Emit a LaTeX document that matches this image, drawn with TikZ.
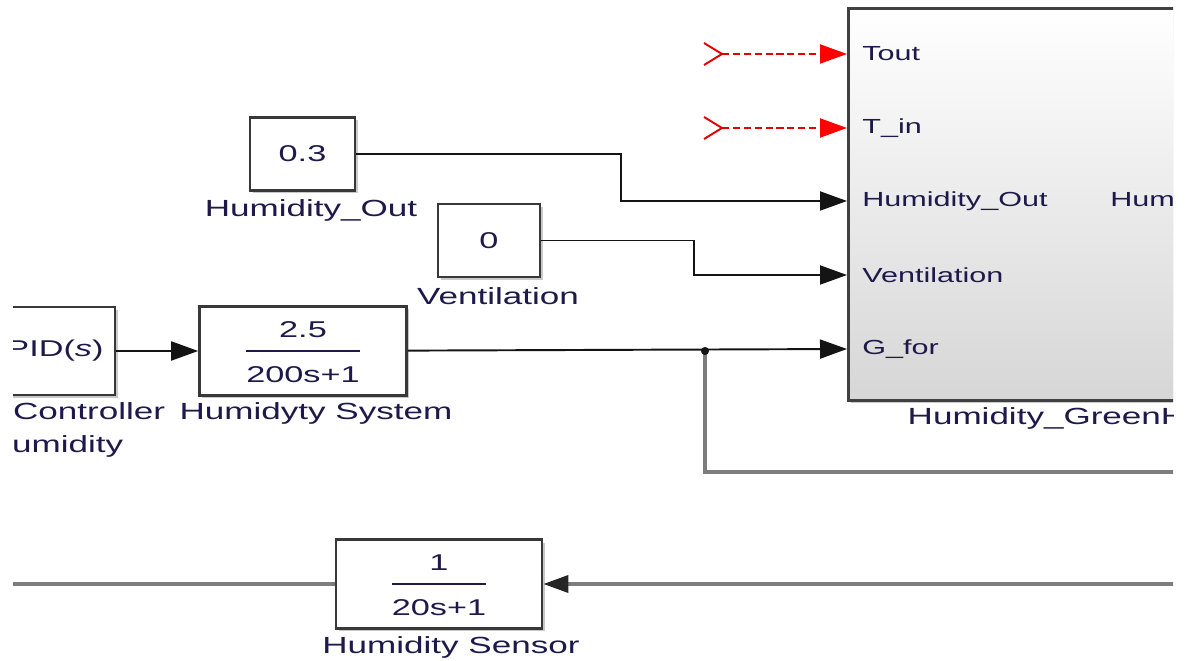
\documentclass[tikz,border=0pt]{standalone}
\usepackage{fontspec}
\setmainfont[FakeStretch=1.5]{Liberation Sans}
\usetikzlibrary{arrows.meta,shadows}

\definecolor{ink}{RGB}{30,25,75}
\definecolor{wire}{RGB}{20,20,20}
\definecolor{fbwire}{RGB}{125,125,125}
\newcommand{\px}{0.02cm}
\newcommand{\blockfrac}[2]{{\renewcommand{\arraystretch}{1.65}\setlength{\arrayrulewidth}{0.8pt}%
  \begin{tabular}{@{}c@{}}#1\\\hline#2\end{tabular}}}

\tikzset{
  block/.style={draw=black!78, line width=1.5pt, fill=white, inner sep=0pt, text=ink,
    font=\fontsize{13}{15}\selectfont,
    drop shadow={shadow xshift=1.6pt, shadow yshift=-1.6pt, opacity=0.35, fill=black!60}},
  bigblock/.style={draw=black!75, line width=1.5pt, top color=white, bottom color=black!16,
    inner sep=0pt, drop shadow={shadow xshift=1.6pt, shadow yshift=-1.6pt, opacity=0.35, fill=black!60}},
  lbl/.style={text=ink, inner sep=0pt, align=center, font=\fontsize{13.3}{19.3}\selectfont},
  port/.style={text=ink, inner sep=0pt, anchor=west, font=\fontsize{11.6}{14}\selectfont},
  sig/.style={draw=wire, line width=1.1pt, -{Triangle[length=0.54cm,width=0.38cm]}},
  redsig/.style={draw=red!90!black, line width=1.1pt, dash pattern=on 4pt off 2.2pt,
    -{Triangle[length=0.54cm,width=0.38cm,fill=red,color=red]}},
  chev/.style={draw=red!90!black, line width=1.1pt},
  fb/.style={draw=fbwire, line width=2pt},
}

\begin{document}
\begin{tikzpicture}[x=0.02cm,y=-0.02cm]
\useasboundingbox (0,0) rectangle (1186,661);
\fill[white] (0,0) rectangle (1186,661);
\begin{scope}
  \clip (13,0) rectangle (1173,661);

  % blocks
  \node[block, minimum width=120*\px, minimum height=88*\px] (pid) at (55,351) {PID(\textit{s})};
  \node[block, minimum width=207*\px, minimum height=89*\px] (sys) at (303,351) {\blockfrac{2.5}{200s+1}};
  \node[block, minimum width=105*\px, minimum height=73*\px] (c03) at (302.5,154) {0.3};
  \node[block, minimum width=102*\px, minimum height=73*\px] (c0) at (489,240.5) {0};
  \node[block, minimum width=206*\px, minimum height=86*\px] (sensor) at (439,584) {\blockfrac{1}{20s+1}};
  \node[bigblock, anchor=north west, minimum width=476*\px, minimum height=392*\px] (gh) at (847,7) {};

  % block labels
  \node[lbl] (pidlbl) at (55,430) {PID Controller\\Humidity};
  \node[lbl] (syslbl) at (316,413) {Humidyty System};
  \node[lbl] (c03lbl) at (311,210) {Humidity\_Out};
  \node[lbl] (c0lbl) at (498,296) {Ventilation};
  \node[lbl] (senslbl) at (451,647) {Humidity Sensor};
  \node[lbl] (ghlbl) at (1085,418) {Humidity\_GreenHouse};

  % ports
  \foreach \name/\txt/\y in {tout/Tout/54, tin/T\_in/128, hout/Humidity\_Out/201,
                             vent/Ventilation/275, gfor/G\_for/349} {
    \node[port] (\name) at (862,\y) {\txt};
  }
  \node[port] (hin) at (1110,201) {Humidity};

  % red inputs
  \coordinate (toutsrc) at (722,54);
  \coordinate (tinsrc) at (722,128);
  \foreach \s/\p in {toutsrc/tout, tinsrc/tin} {
    \draw[chev] (\s) +(-18,-11) -- (\s) -- +(-18,11);
    \draw[redsig] (\s) -- (gh.west |- \p);
  }

  % signals
  \coordinate (split) at (705,351);
  \coordinate (fbright) at (1200,472);
  \coordinate (sensright) at (1200,584);
  \coordinate (sensleft) at (0,584);
  \draw[sig] (pid) -- (sys);
  \draw[sig] (sys) -- (gh.west |- gfor);
  \draw[sig] (c03.east) -- ++(265,0) |- (gh.west |- hout);
  \draw[sig] (c0.east) -- ++(153,0) |- (gh.west |- vent);
  \draw[fb] (split) |- (fbright);
  \fill[wire] (split) circle (2.3pt);
  \draw[fb, -{Triangle[length=0.5cm,width=0.34cm,color=black!85]}] (sensright) -- (sensor);
  \draw[fb] (sensor) -- (sensleft);
\end{scope}
\end{tikzpicture}
\end{document}
